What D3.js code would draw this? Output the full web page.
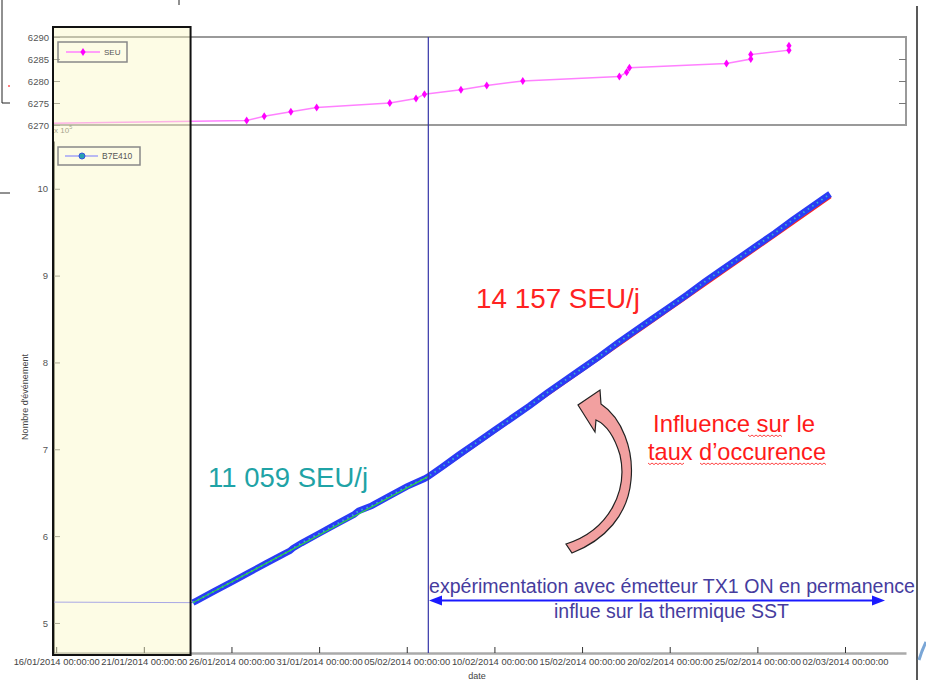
<!DOCTYPE html>
<html>
<head>
<meta charset="utf-8">
<script src="https://cdn.jsdelivr.net/npm/d3@7"></script>
<style>
body { margin: 0; background: #fff; }
svg { display: block; font-family: "Liberation Sans", Arial, sans-serif; }
</style>
</head>
<body>
<div id="chart"></div>
<script>
var width = 926;
var height = 680;

var parseDate = d3.timeParse("%d/%m/%Y %H:%M");

// SEU counter, top panel (first entry = line start, no marker)
var seuDates = ["15/01/2014 19:40", "26/01/2014 20:50", "27/01/2014 20:50", "29/01/2014 09:20",
    "30/01/2014 20:40", "04/02/2014 00:45", "05/02/2014 12:40", "06/02/2014 00:15",
    "08/02/2014 02:10", "09/02/2014 13:30", "11/02/2014 14:50", "17/02/2014 03:05",
    "17/02/2014 13:00", "17/02/2014 16:50", "23/02/2014 05:45", "24/02/2014 15:00",
    "24/02/2014 15:00", "26/02/2014 19:15", "26/02/2014 19:15"];
var seuValues = [6270.4, 6271, 6272, 6273, 6274, 6275, 6276, 6277, 6278, 6279, 6280,
    6281, 6282, 6283, 6284, 6285, 6286, 6287, 6288];

// B7E410 event count (x 10^5), bottom panel
var b7Dates = ["15/01/2014 19:40", "23/01/2014 19:15", "24/01/2014 00:00", "25/01/2014 00:00",
    "26/01/2014 00:00", "27/01/2014 00:00", "28/01/2014 00:00", "29/01/2014 00:00",
    "29/01/2014 08:00", "29/01/2014 12:00", "30/01/2014 00:00", "31/01/2014 00:00",
    "01/02/2014 00:00", "02/02/2014 00:00", "02/02/2014 06:00", "03/02/2014 00:00",
    "04/02/2014 00:00", "05/02/2014 00:00", "06/02/2014 00:00", "06/02/2014 05:30",
    "07/02/2014 00:00", "08/02/2014 00:00", "09/02/2014 00:00", "10/02/2014 00:00",
    "11/02/2014 00:00", "12/02/2014 00:00", "13/02/2014 00:00", "14/02/2014 00:00",
    "15/02/2014 00:00", "16/02/2014 00:00", "17/02/2014 00:00", "18/02/2014 00:00",
    "19/02/2014 00:00", "20/02/2014 00:00", "21/02/2014 00:00", "22/02/2014 00:00",
    "23/02/2014 00:00", "24/02/2014 00:00", "25/02/2014 00:00", "26/02/2014 00:00",
    "27/02/2014 00:00", "28/02/2014 00:00", "01/03/2014 00:00", "01/03/2014 03:30"];
var b7Values = [5.24, 5.234, 5.255, 5.363, 5.471, 5.58, 5.688, 5.796,
    5.83, 5.86, 5.92, 6.03, 6.14, 6.25, 6.29, 6.35, 6.46, 6.57, 6.66, 6.686,
    6.795, 6.94, 7.08, 7.22, 7.36, 7.50, 7.65, 7.79, 7.93, 8.07, 8.22, 8.36,
    8.50, 8.64, 8.78, 8.93, 9.07, 9.21, 9.35, 9.49, 9.64, 9.78, 9.92, 9.94];

// fitted rates
var greenFitDates = ["23/01/2014 19:15", "06/02/2014 05:30"];
var greenFitValues = [5.234, 6.686];
var redFitDates = ["06/02/2014 05:30", "01/03/2014 05:00"];
var redFitValues = [6.66, 9.90];

var xTickDates = ["16/01/2014 00:00", "21/01/2014 00:00", "26/01/2014 00:00", "31/01/2014 00:00",
    "05/02/2014 00:00", "10/02/2014 00:00", "15/02/2014 00:00", "20/02/2014 00:00",
    "25/02/2014 00:00", "02/03/2014 00:00"];
var seuTicks = [6270, 6275, 6280, 6285, 6290];
var seuRightTicks = [6275, 6280, 6285];
var countTicks = [5, 6, 7, 8, 9, 10];
var markerDate = "06/02/2014 05:30";
var highlightEnd = "23/01/2014 16:00";

var svg = d3.select("#chart").append("svg")
    .attr("width", width)
    .attr("height", height);

var x = d3.scaleTime()
    .domain([parseDate("15/01/2014 19:40"), parseDate("05/03/2014 11:30")])
    .range([53, 906]);
var yTop = d3.scaleLinear().domain([6270, 6290]).range([125, 37]);
var yBot = d3.scaleLinear().domain([4.654, 10.55]).range([653, 141]);

// slide frame leftovers
var frame = svg.append("g").attr("stroke", "#222").attr("fill", "none");
frame.append("path").attr("d", "M2,0V103H10");
frame.append("path").attr("d", "M0,193H10");
frame.append("path").attr("d", "M179,0V5");
frame.append("path").attr("d", "M917,6V680").attr("stroke-width", 1.5);
svg.append("path").attr("d", "M8,86H10").attr("stroke", "red");
svg.append("path").attr("d", "M919,660Q922,650 926,642")
    .attr("stroke", "#7aa6d6").attr("stroke-width", 3).attr("fill", "none");

// ---- top panel ----
svg.append("rect")
    .attr("x", x.range()[0]).attr("y", yTop(6290))
    .attr("width", x.range()[1] - x.range()[0])
    .attr("height", yTop(6270) - yTop(6290))
    .attr("fill", "#fff")
    .attr("stroke", "#9a9a9a")
    .attr("stroke-width", 2);

var topLeft = svg.append("g")
    .attr("transform", "translate(" + x.range()[0] + ",0)")
    .call(d3.axisLeft(yTop).tickValues(seuTicks).tickFormat(d3.format("d"))
        .tickSizeInner(-7).tickSizeOuter(0).tickPadding(4));
topLeft.select(".domain").remove();

var topRight = svg.append("g")
    .attr("transform", "translate(" + x.range()[1] + ",0)")
    .call(d3.axisRight(yTop).tickValues(seuRightTicks).tickSizeInner(-7).tickFormat(""));
topRight.select(".domain").remove();

svg.selectAll(".tick line").attr("stroke", "#777");
topLeft.selectAll("text").attr("font-size", "9.5px").attr("fill", "#555")
    .attr("font-family", "Liberation Sans, Arial");

var seuLine = d3.line()
    .x(function (d, i) { return x(parseDate(seuDates[i])); })
    .y(function (d) { return yTop(d); });

svg.append("path")
    .attr("d", seuLine(seuValues))
    .attr("fill", "none")
    .attr("stroke", "#ff80ff")
    .attr("stroke-width", 1.5);

svg.selectAll(".seu-dot")
    .data(seuValues.slice(1))
    .enter().append("path")
    .attr("class", "seu-dot")
    .attr("d", "M0,-4L2.6,0L0,4L-2.6,0Z")
    .attr("fill", "#ff00ff")
    .attr("transform", function (d, i) {
        return "translate(" + x(parseDate(seuDates[i + 1])) + "," + yTop(d) + ")";
    });

// ---- bottom panel ----
var xAxis = svg.append("g")
    .attr("transform", "translate(0," + yBot.range()[0] + ")")
    .call(d3.axisBottom(x)
        .tickValues(xTickDates.map(parseDate))
        .tickSizeInner(-6).tickSizeOuter(0).tickPadding(5)
        .tickFormat(d3.timeFormat("%d/%m/%Y %H:%M:%S")));
xAxis.select(".domain").attr("stroke", "#aaa").attr("stroke-width", 2.5);
xAxis.selectAll(".tick line").attr("stroke", "#333");
xAxis.selectAll("text").attr("font-size", "9.4px").attr("fill", "#444")
    .attr("font-family", "Liberation Sans, Arial");

var yAxis = svg.append("g")
    .attr("transform", "translate(" + x.range()[0] + ",0)")
    .call(d3.axisLeft(yBot).tickValues(countTicks).tickFormat(d3.format("d"))
        .tickSizeInner(-7).tickSizeOuter(0).tickPadding(5));
yAxis.select(".domain").attr("stroke", "#222").attr("stroke-width", 2.5);
yAxis.selectAll(".tick line").attr("stroke", "#777");
yAxis.selectAll("text").attr("font-size", "9.5px").attr("fill", "#555")
    .attr("font-family", "Liberation Sans, Arial");

svg.append("text")
    .attr("x", 54).attr("y", 133)
    .attr("font-size", "8px").attr("fill", "#666")
    .text("x 10")
    .append("tspan").attr("dy", -4).attr("font-size", "5.5px").text("5");

svg.append("text")
    .attr("transform", "translate(28,397) rotate(-90)")
    .attr("text-anchor", "middle")
    .attr("font-size", "9px").attr("fill", "#444")
    .text("Nombre d'événement");

svg.append("text")
    .attr("x", 477).attr("y", 679)
    .attr("text-anchor", "middle")
    .attr("font-size", "9px").attr("fill", "#444")
    .text("date");

var countLine = d3.line()
    .x(function (d) { return x(d[0]); })
    .y(function (d) { return yBot(d[1]); });

function pairs(dates, values) {
    return values.map(function (v, i) { return [parseDate(dates[i]), v]; });
}

// red fit sits just under the band
svg.append("path")
    .attr("d", countLine(pairs(redFitDates, redFitValues)))
    .attr("fill", "none").attr("stroke", "#ff2020").attr("stroke-width", 1.6);

var b7 = pairs(b7Dates, b7Values);
svg.append("path")
    .attr("d", countLine(b7.slice(0, 2)))
    .attr("fill", "none").attr("stroke", "#6f6fff").attr("stroke-width", 1);
svg.append("path")
    .attr("d", countLine(b7.slice(1)))
    .attr("fill", "none").attr("stroke", "#2a3cf5").attr("stroke-width", 6.5);
svg.append("path")
    .attr("d", countLine(b7.slice(1)))
    .attr("fill", "none").attr("stroke", "#38b4d0").attr("stroke-width", 1.8)
    .attr("stroke-dasharray", "1.5,4");
svg.append("path")
    .attr("d", countLine(pairs(greenFitDates, greenFitValues)))
    .attr("fill", "none").attr("stroke", "#2ee62e").attr("stroke-width", 1.1);

// start of the permanent TX1 experiment
svg.append("line")
    .attr("x1", x(parseDate(markerDate))).attr("x2", x(parseDate(markerDate)))
    .attr("y1", yTop(6290)).attr("y2", yBot.range()[0])
    .attr("stroke", "#3434a8").attr("stroke-width", 1.2);

// highlighted period (semi transparent yellow)
svg.append("rect")
    .attr("x", x.range()[0]).attr("y", 27)
    .attr("width", x(parseDate(highlightEnd)) - x.range()[0])
    .attr("height", 628)
    .attr("fill", "#fbf7c0").attr("fill-opacity", 0.42)
    .attr("stroke", "#111").attr("stroke-width", 2);

// legends
var leg1 = svg.append("g").attr("transform", "translate(58,42)");
leg1.append("rect").attr("width", 69).attr("height", 20)
    .attr("fill", "none").attr("stroke", "#888").attr("stroke-width", 1.5);
leg1.append("line").attr("x1", 8).attr("x2", 42).attr("y1", 10).attr("y2", 10)
    .attr("stroke", "#ff80ff").attr("stroke-width", 1.5);
leg1.append("path").attr("d", "M0,-4L2.6,0L0,4L-2.6,0Z")
    .attr("transform", "translate(25,10)").attr("fill", "#ff00ff");
leg1.append("text").attr("x", 46).attr("y", 13)
    .attr("font-size", "8px").attr("fill", "#555").text("SEU");

var leg2 = svg.append("g").attr("transform", "translate(58,147)");
leg2.append("rect").attr("width", 82).attr("height", 18)
    .attr("fill", "none").attr("stroke", "#888").attr("stroke-width", 1.5);
leg2.append("line").attr("x1", 7).attr("x2", 40).attr("y1", 9).attr("y2", 9)
    .attr("stroke", "#7777ff").attr("stroke-width", 1.2);
leg2.append("circle").attr("cx", 24).attr("cy", 9).attr("r", 3)
    .attr("fill", "#28a0b0").attr("stroke", "#3355dd");
leg2.append("text").attr("x", 44).attr("y", 12)
    .attr("font-size", "8.5px").attr("fill", "#555").text("B7E410");

// ---- annotations ----
svg.append("text")
    .attr("x", 208).attr("y", 487)
    .attr("font-size", "27px").attr("fill", "#1fa3a6")
    .attr("textLength", 160).attr("lengthAdjust", "spacingAndGlyphs")
    .text("11 059 SEU/j");

svg.append("text")
    .attr("x", 476).attr("y", 308)
    .attr("font-size", "27px").attr("fill", "#ff2222")
    .attr("textLength", 164).attr("lengthAdjust", "spacingAndGlyphs")
    .text("14 157 SEU/j");

svg.append("text")
    .attr("x", 653).attr("y", 432)
    .attr("font-size", "24px").attr("fill", "#ff1a1a")
    .attr("textLength", 162).attr("lengthAdjust", "spacingAndGlyphs")
    .text("Influence sur le");
svg.append("text")
    .attr("x", 648).attr("y", 460)
    .attr("font-size", "24px").attr("fill", "#ff1a1a")
    .attr("textLength", 178).attr("lengthAdjust", "spacingAndGlyphs")
    .text("taux d\u2019occurence");

// spell-check squiggles
function squiggle(x0, x1, y) {
    var d = "M" + x0 + "," + y;
    for (var xx = x0 + 2, k = 0; xx <= x1; xx += 2, k++) {
        d += "L" + xx + "," + (y + (k % 2 === 0 ? 1.6 : 0));
    }
    return d;
}
[[748, 783, 435], [648, 684, 463], [700, 827, 463]].forEach(function (s) {
    svg.append("path").attr("d", squiggle(s[0], s[1], s[2]))
        .attr("fill", "none").attr("stroke", "#ff3030").attr("stroke-width", 0.9);
});

// curved arrow
svg.append("path")
    .attr("d", "M566,544 C610,530 628,490 620,455 C614,435 605,424 596,420 L595,432 L578,405 L600,390 L601,404 C622,418 634,450 631,480 C628,515 605,540 572,553 Z")
    .attr("fill", "#f2a0a0")
    .attr("stroke", "#222")
    .attr("stroke-width", 1.2);

// double arrow for the experiment period
var arrowY = 600.5;
svg.append("line")
    .attr("x1", 438).attr("x2", 876).attr("y1", arrowY).attr("y2", arrowY)
    .attr("stroke", "#1a1aff").attr("stroke-width", 2.2);
svg.append("path")
    .attr("d", "M429," + arrowY + "L442," + (arrowY - 5) + "L442," + (arrowY + 5) + "Z")
    .attr("fill", "#1a1aff");
svg.append("path")
    .attr("d", "M885," + arrowY + "L872," + (arrowY - 5) + "L872," + (arrowY + 5) + "Z")
    .attr("fill", "#1a1aff");

svg.append("text")
    .attr("x", 429).attr("y", 593)
    .attr("font-size", "19.5px").attr("fill", "#463c9e")
    .attr("textLength", 486).attr("lengthAdjust", "spacingAndGlyphs")
    .text("expérimentation avec émetteur TX1 ON en permanence");
svg.append("text")
    .attr("x", 554).attr("y", 618)
    .attr("font-size", "19.5px").attr("fill", "#463c9e")
    .attr("textLength", 235).attr("lengthAdjust", "spacingAndGlyphs")
    .text("influe sur la thermique SST");
</script>
</body>
</html>
